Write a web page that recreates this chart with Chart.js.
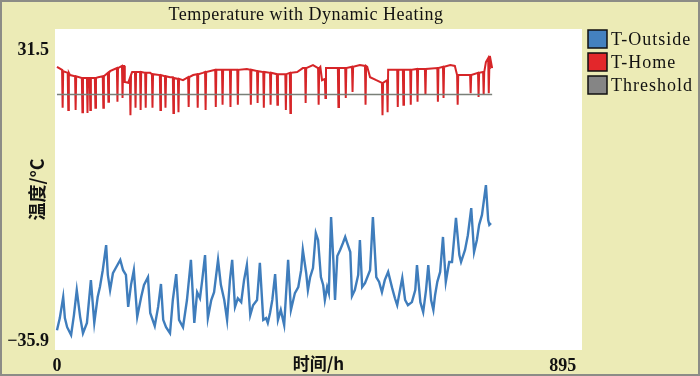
<!DOCTYPE html>
<html>
<head>
<meta charset="utf-8">
<script src="https://cdn.jsdelivr.net/npm/chart.js@4.4.1/dist/chart.umd.min.js"></script>
<style>
  html, body { margin: 0; padding: 0; background: #ecebb6; }
  canvas { display: block; }
</style>
</head>
<body>
<canvas id="chart" width="700" height="376"></canvas>
<script>
// series names / colours
const seriesNames = ['T-Outside', 'T-Home', 'Threshold'];
const seriesColors = ['#4481bf', '#e3272b', '#858585'];

// axis labels
const xTicks = [0, 895];
const xTickLabels = ['0', '895'];
const yTicks = [-35.9, 31.5];
const yTickLabels = ['\u221235.9', '31.5'];

// T-Outside (hours, °C)
const outsideHours = [0, 5, 11, 14, 18, 25, 30, 35, 41, 46, 53, 60, 66, 72, 76, 81, 87, 90, 94, 99,
    104, 112, 117, 122, 126, 131, 136, 142, 149, 154, 161, 165, 173, 179, 184, 188, 193, 200, 205, 211,
    216, 223, 230, 237, 243, 248, 253, 257, 262, 267, 273, 278, 285, 290, 296, 301, 306, 310, 315, 320,
    326, 331, 336, 342, 347, 354, 359, 365, 370, 373, 377, 381, 386, 391, 396, 402, 409, 414, 421, 427,
    432, 435, 441, 444, 448, 453, 458, 462, 467, 471, 474, 478, 481, 485, 489, 492, 496, 501, 506, 510,
    513, 519, 522, 527, 533, 536, 540, 545, 554, 559, 565, 570, 575, 580, 586, 593, 598, 602, 607, 611,
    616, 621, 628, 634, 637, 643, 648, 653, 657, 662, 666, 669, 673, 678, 683, 688, 694, 699, 706, 712,
    715, 722, 727, 733, 738, 743, 747, 752, 759, 763, 765, 768];
const outsideTemp = [-33.4, -30.6, -25.7, -30.6, -32.7, -34.5, -29.9, -24.1, -30.3, -34.1, -31.7, -21.8, -31.7, -25.7, -23.4, -19.5, -13.7, -20.6, -24.1, -20.2,
    -19.0, -17.1, -19.5, -20.6, -28.0, -22.9, -19.5, -30.3, -25.7, -22.9, -21.1, -29.4, -32.4, -28.0, -22.7, -31.0, -32.7, -34.1, -26.4, -20.4,
    -31.0, -32.7, -26.4, -17.1, -31.7, -24.6, -26.0, -21.8, -16.0, -30.6, -26.4, -24.6, -17.1, -22.9, -26.4, -31.0, -21.8, -17.1, -28.0, -26.0,
    -26.9, -21.8, -18.3, -29.9, -27.6, -26.4, -17.8, -31.0, -30.6, -31.7, -29.4, -26.4, -20.4, -31.0, -28.7, -32.2, -17.1, -28.7, -24.8, -23.4,
    -19.5, -14.8, -20.2, -24.1, -21.1, -19.0, -10.9, -12.5, -21.1, -22.9, -26.4, -23.4, -24.8, -7.2, -17.1, -26.4, -16.2, -14.8, -13.2, -11.8,
    -13.0, -15.3, -25.5, -24.1, -20.6, -12.5, -23.4, -22.5, -19.5, -7.2, -21.1, -22.2, -24.6, -21.8, -19.9, -23.6, -26.0, -27.6, -24.1, -21.3,
    -26.4, -27.6, -26.9, -24.1, -18.3, -26.9, -29.2, -24.1, -18.3, -26.4, -28.7, -25.3, -22.2, -19.9, -11.8, -22.2, -17.6, -17.6, -7.4, -16.0,
    -17.6, -14.8, -11.4, -5.1, -15.3, -12.5, -9.0, -6.7, 0.2, -7.9, -9.0, -8.6];

// T-Home (hours, °C)
const homeHours = [0, 9, 10, 11, 19, 20, 21, 23, 32, 33, 34, 44, 45, 46, 53, 54, 55, 58, 59, 60,
    67, 68, 69, 73, 81, 82, 83, 90, 91, 92, 94, 106, 107, 108, 115, 116, 117, 119, 120, 126,
    129, 130, 131, 133, 138, 139, 140, 147, 148, 149, 156, 157, 158, 165, 168, 169, 170, 182, 183, 184,
    191, 192, 193, 200, 205, 206, 207, 214, 215, 216, 223, 232, 233, 234, 241, 248, 249, 250, 258, 262,
    263, 264, 280, 281, 282, 283, 292, 293, 294, 306, 307, 308, 312, 319, 320, 321, 336, 342, 343, 344,
    354, 355, 356, 365, 366, 367, 377, 378, 379, 389, 390, 391, 395, 404, 405, 406, 412, 413, 414, 425,
    435, 439, 440, 441, 453, 462, 463, 464, 466, 469, 474, 475, 476, 497, 498, 499, 510, 511, 512, 513,
    522, 523, 524, 536, 545, 546, 547, 549, 554, 565, 575, 576, 577, 584, 585, 586, 602, 603, 604, 612,
    613, 614, 625, 626, 627, 637, 638, 639, 651, 652, 653, 673, 674, 675, 683, 684, 685, 696, 704, 708,
    709, 710, 731, 732, 733, 745, 746, 747, 754, 755, 756, 759, 763, 764, 765, 766, 770];
const homeTemp = [27.6, 26.9, 18.1, 26.6, 26.2, 17.6, 26.2, 25.7, 25.4, 17.6, 25.4, 25.0, 17.1, 25.0, 25.0, 16.9, 25.0, 25.0, 17.6, 25.0,
    25.0, 18.1, 25.0, 25.2, 25.4, 18.1, 25.4, 26.2, 19.5, 26.2, 26.6, 27.3, 19.5, 27.3, 27.8, 20.4, 27.8, 27.8, 24.1, 23.9,
    25.0, 16.4, 25.7, 26.4, 26.4, 18.1, 26.4, 26.4, 17.6, 26.4, 26.2, 18.1, 26.2, 26.2, 25.9, 18.1, 25.9, 25.7, 17.6, 25.7,
    25.4, 18.1, 25.4, 25.2, 25.2, 16.9, 25.0, 24.8, 17.1, 24.8, 24.5, 25.2, 18.3, 25.2, 25.7, 25.9, 18.1, 25.9, 26.2, 26.4,
    17.6, 26.4, 26.9, 18.3, 26.9, 26.9, 26.9, 18.8, 26.9, 26.9, 18.3, 26.9, 26.9, 26.9, 18.8, 26.9, 27.1, 26.9, 18.8, 26.9,
    26.6, 19.2, 26.6, 26.4, 18.1, 26.4, 26.2, 18.8, 26.2, 25.9, 18.8, 25.9, 25.9, 25.9, 17.6, 25.9, 26.2, 16.9, 26.2, 26.4,
    27.3, 27.3, 19.2, 27.3, 28.0, 27.3, 18.8, 27.3, 27.6, 24.5, 24.8, 20.4, 27.3, 27.3, 18.3, 27.3, 27.3, 20.4, 27.3, 27.3,
    27.6, 21.8, 27.6, 28.0, 27.8, 18.8, 27.8, 27.6, 25.2, 24.5, 23.9, 16.4, 23.9, 24.5, 17.1, 26.9, 26.9, 18.3, 26.9, 26.9,
    18.8, 26.9, 26.9, 18.8, 26.9, 27.1, 19.5, 27.1, 27.1, 21.1, 27.1, 27.3, 19.5, 27.3, 27.6, 20.4, 27.6, 28.0, 27.8, 25.7,
    18.8, 25.7, 25.7, 21.5, 25.7, 26.2, 20.6, 26.2, 26.4, 21.1, 26.4, 28.7, 29.6, 21.5, 27.3, 30.1, 27.3];

// Threshold
const thresholdHours = [0, 770];
const thresholdTemp = [21.2, 21.2];

const toPoints = (xs, ys) => xs.map((x, i) => ({ x, y: ys[i] }));

const serif = '"Liberation Serif", "DejaVu Serif", serif';

const frame = {
    id: 'frame',
    beforeDraw(chart) {
        const { ctx, chartArea: a } = chart;
        ctx.save();
        ctx.fillStyle = '#ecebb6';
        ctx.fillRect(0, 0, chart.width, chart.height);
        ctx.fillStyle = '#ffffff';
        ctx.fillRect(a.left, a.top, a.right - a.left, a.bottom - a.top);
        ctx.restore();
    },
    afterDraw(chart) {
        const { ctx } = chart;
        ctx.save();
        // outer border
        ctx.strokeStyle = '#8c8c86';
        ctx.lineWidth = 2;
        ctx.strokeRect(1, 1, chart.width - 2, chart.height - 2);

        // title
        ctx.fillStyle = '#111';
        ctx.font = '18px ' + serif;
        ctx.letterSpacing = '0.5px';
        ctx.textAlign = 'center';
        ctx.textBaseline = 'middle';
        ctx.fillText('Temperature with Dynamic Heating', 306, 15);

        // legend
        ctx.textAlign = 'left';
        ctx.font = '18px ' + serif;
        ctx.letterSpacing = '1px';
        seriesNames.forEach((name, i) => {
            const y = 30 + i * 23;
            ctx.fillStyle = seriesColors[i];
            ctx.fillRect(588, y, 19, 18);
            ctx.strokeStyle = '#111';
            ctx.lineWidth = 1.5;
            ctx.strokeRect(588, y, 19, 18);
            ctx.fillStyle = '#111';
            ctx.fillText(name, 611, y + 10);
        });
        ctx.restore();
    }
};

new Chart(document.getElementById('chart'), {
    type: 'line',
    data: {
        datasets: [
            {
                label: seriesNames[0],
                data: toPoints(outsideHours, outsideTemp),
                borderColor: '#3f7dbc',
                borderWidth: 2.4,
                order: 3
            },
            {
                label: seriesNames[1],
                data: toPoints(homeHours, homeTemp),
                borderColor: '#d62528',
                borderWidth: 2,
                order: 2
            },
            {
                label: seriesNames[2],
                data: toPoints(thresholdHours, thresholdTemp),
                borderColor: '#7a7f78',
                borderWidth: 1.5,
                order: 1
            }
        ]
    },
    options: {
        responsive: false,
        animation: false,
        parsing: false,
        elements: { point: { radius: 0 }, line: { tension: 0 } },
        layout: { padding: { top: 29, right: 118, left: 0, bottom: 0 } },
        plugins: { legend: { display: false }, title: { display: false }, tooltip: { enabled: false } },
        scales: {
            x: {
                type: 'linear',
                min: -3.5,
                max: 929,
                grid: { display: false, drawTicks: false },
                border: { display: false },
                afterBuildTicks: s => { s.ticks = xTicks.map(v => ({ value: v })); },
                afterFit: s => { s.height = 26; },
                ticks: {
                    autoSkip: false,
                    maxRotation: 0,
                    padding: 6,
                    color: '#111',
                    font: { family: serif, size: 18, weight: 'bold' },
                    callback: (v, i) => xTickLabels[i]
                },
                title: {
                    display: true,
                    text: '时间/h',
                    color: '#111',
                    align: 'center',
                    padding: { top: 0, bottom: 2 },
                    font: { family: '"Noto Sans CJK SC", sans-serif', size: 17, weight: 'bold' }
                }
            },
            y: {
                type: 'linear',
                min: -37.98,
                max: 36.36,
                grid: { display: false, drawTicks: false },
                border: { display: false },
                afterBuildTicks: s => { s.ticks = yTicks.map(v => ({ value: v })); },
                afterFit: s => { s.width = 55; },
                ticks: {
                    autoSkip: false,
                    padding: 6,
                    color: '#111',
                    font: { family: serif, size: 18, weight: 'bold' },
                    callback: (v, i) => yTickLabels[i]
                },
                title: {
                    display: true,
                    text: '温度/°C',
                    color: '#111',
                    padding: { top: 26, bottom: 0 },
                    font: { family: '"Noto Sans CJK SC", sans-serif', size: 18, weight: 'bold' }
                }
            }
        }
    },
    plugins: [frame]
});
</script>
</body>
</html>
